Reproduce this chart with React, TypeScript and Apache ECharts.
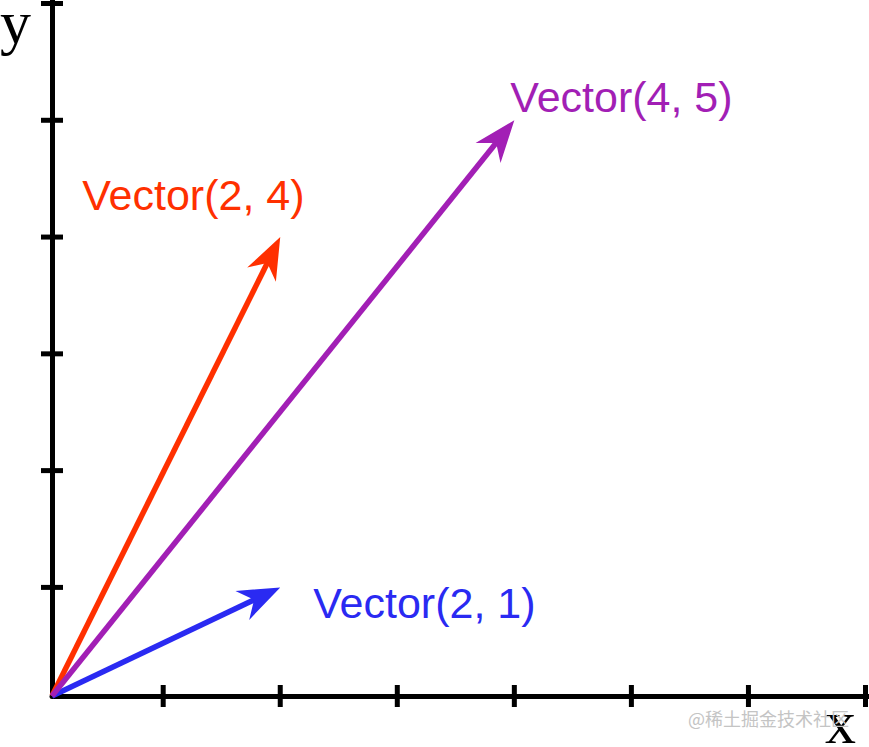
import React, { useEffect, useRef } from "react";
import * as echarts from "echarts";

// Data
const vectorNames = ["Vector(2, 4)", "Vector(2, 1)", "Vector(4, 5)"];
const vectorX = [2, 2, 4];
const vectorY = [4, 1, 5];
const vectorColors = ["#ff3000", "#2a2af2", "#a21fb5"];
const xTicks = [1, 2, 3, 4, 5, 6, 7];
const yTicks = [1, 2, 3, 4, 5, 6];
const xRange = [0.05, 7.03];
const yRange = [0.07, 6.03];

// Styling (label offsets in pixels from arrow tips)
const labelOffsets = [
  [-198, -42],
  [33, 16],
  [-4, -23],
];
const FONT = '"Liberation Sans", Arial, Helvetica, sans-serif';
const SERIF = '"Liberation Serif", "Times New Roman", serif';

export default function App() {
  const ref = useRef<HTMLDivElement>(null);
  useEffect(() => {
    if (!ref.current) return;
    const chart = echarts.init(ref.current, undefined, { renderer: "svg" });
    const xMin = xRange[0];
    const yMin = yRange[0];

    const arrowSeries = vectorNames.map((name, i) => ({
      type: "custom",
      name,
      clip: false,
      z: 5 + i,
      data: [[vectorX[i], vectorY[i]]],
      renderItem: (params: any, api: any) => {
        const s = api.coord([xMin, yMin]);
        const t = api.coord([api.value(0), api.value(1)]);
        const dx = t[0] - s[0];
        const dy = t[1] - s[1];
        const len = Math.hypot(dx, dy);
        const ux = dx / len;
        const uy = dy / len;
        const nx = -uy;
        const ny = ux;
        const L = 42;
        const W = 16;
        const N = 29;
        const color = vectorColors[i];
        const back = [t[0] - ux * N, t[1] - uy * N];
        const lineEnd = [t[0] - ux * (N - 3), t[1] - uy * (N - 3)];
        return {
          type: "group",
          children: [
            {
              type: "line",
              shape: { x1: s[0], y1: s[1], x2: lineEnd[0], y2: lineEnd[1] },
              style: { stroke: color, lineWidth: 5.5 },
            },
            {
              type: "polygon",
              shape: {
                points: [
                  t,
                  [t[0] - ux * L + nx * W, t[1] - uy * L + ny * W],
                  back,
                  [t[0] - ux * L - nx * W, t[1] - uy * L - ny * W],
                ],
              },
              style: { fill: color },
            },
            {
              type: "text",
              x: t[0] + labelOffsets[i][0],
              y: t[1] + labelOffsets[i][1],
              style: {
                text: name,
                fill: color,
                fontSize: 43,
                fontFamily: FONT,
                align: "left",
                verticalAlign: "middle",
              },
            },
          ],
        };
      },
    }));

    const tickLen = 11;
    const option: any = {
      animation: false,
      backgroundColor: "#ffffff",
      grid: { left: 52, right: 0, top: 0, bottom: 51 },
      xAxis: {
        type: "value",
        min: xRange[0],
        max: xRange[1],
        axisLine: { show: true, onZero: false, lineStyle: { color: "#000", width: 5 } },
        axisTick: { show: false },
        axisLabel: { show: false },
        splitLine: { show: false },
      },
      yAxis: {
        type: "value",
        min: yRange[0],
        max: yRange[1],
        axisLine: { show: true, onZero: false, lineStyle: { color: "#000", width: 5 } },
        axisTick: { show: false },
        axisLabel: { show: false },
        splitLine: { show: false },
      },
      graphic: [
        {
          type: "text",
          x: 0,
          y: 22,
          style: { text: "y", fill: "#000", fontSize: 62, fontFamily: SERIF, align: "left", verticalAlign: "middle" },
        },
        {
          type: "text",
          x: 825,
          y: 722,
          style: { text: "x", fill: "#000", fontSize: 62, fontFamily: SERIF, align: "left", verticalAlign: "middle" },
        },
        {
          type: "text",
          x: 688,
          y: 718,
          style: {
            text: "@稀土掘金技术社区",
            fill: "#c4c4c4",
            fontSize: 18,
            fontFamily: '"Noto Sans CJK SC", sans-serif',
            align: "left",
            verticalAlign: "middle",
          },
        },
      ],
      series: [
        {
          type: "custom",
          name: "xTicks",
          clip: false,
          z: 3,
          data: xTicks.map((v) => [v, yMin]),
          renderItem: (params: any, api: any) => {
            const p = api.coord([api.value(0), api.value(1)]);
            return {
              type: "line",
              shape: { x1: p[0], y1: p[1] - tickLen, x2: p[0], y2: p[1] + tickLen },
              style: { stroke: "#000", lineWidth: 5 },
            };
          },
        },
        {
          type: "custom",
          name: "yTicks",
          clip: false,
          z: 3,
          data: yTicks.map((v) => [xMin, v]),
          renderItem: (params: any, api: any) => {
            const p = api.coord([api.value(0), api.value(1)]);
            return {
              type: "line",
              shape: { x1: p[0] - tickLen, y1: p[1], x2: p[0] + tickLen, y2: p[1] },
              style: { stroke: "#000", lineWidth: 5 },
            };
          },
        },
        ...arrowSeries,
      ],
    };
    chart.setOption(option);
    return () => chart.dispose();
  }, []);

  return (
    <div
      ref={ref}
      style={{ position: "absolute", left: 0, top: 0, width: 869, height: 747, background: "#fff" }}
    />
  );
}
